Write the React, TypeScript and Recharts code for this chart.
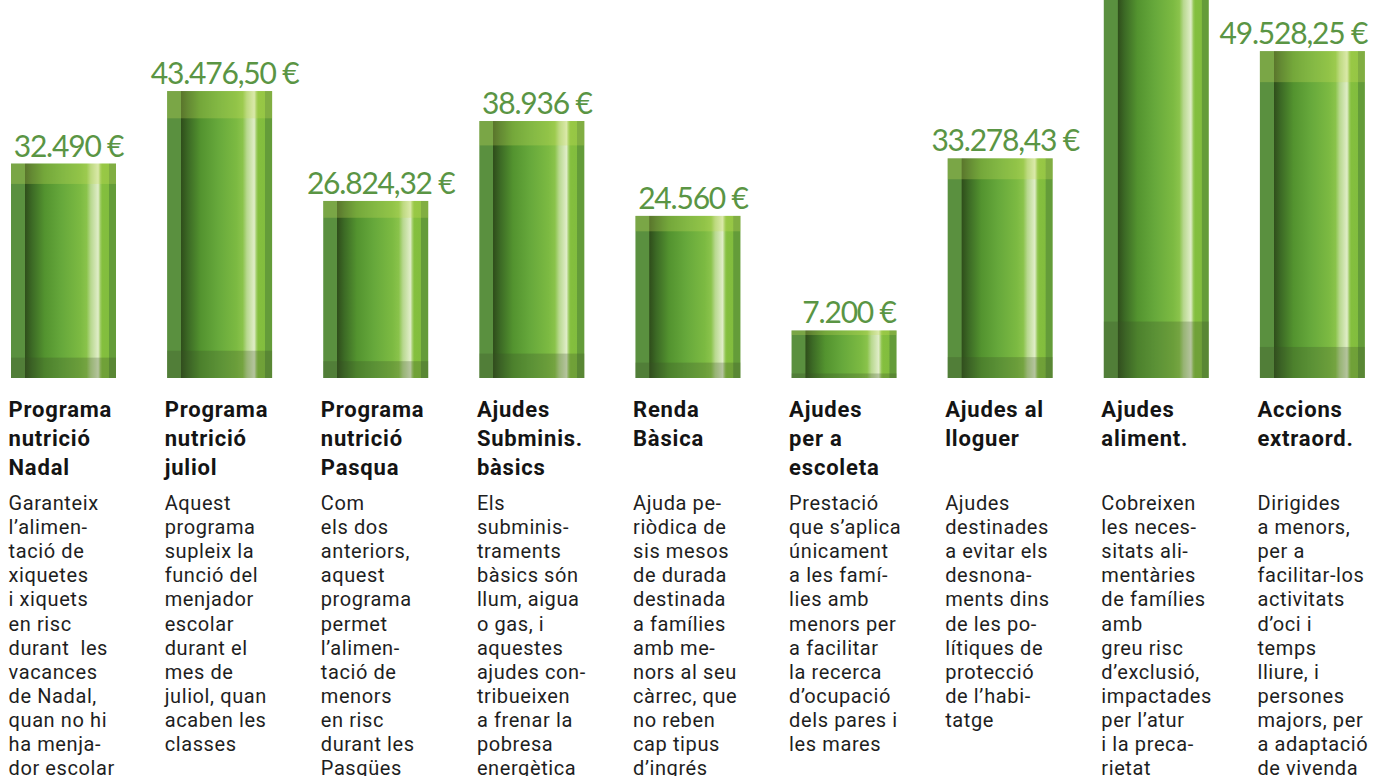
import { BarChart, Bar, XAxis, YAxis, LabelList } from "recharts";

const titles = [
  ["Programa", "nutrició", "Nadal"],
  ["Programa", "nutrició", "juliol"],
  ["Programa", "nutrició", "Pasqua"],
  ["Ajudes", "Subminis.", "bàsics"],
  ["Renda", "Bàsica"],
  ["Ajudes", "per a", "escoleta"],
  ["Ajudes al", "lloguer"],
  ["Ajudes", "aliment."],
  ["Accions", "extraord."],
];

const descriptions = [
  ["Garanteix", "l’alimen-", "tació de", "xiquetes", "i xiquets", "en risc", "durant  les", "vacances", "de Nadal,", "quan no hi", "ha menja-", "dor escolar"],
  ["Aquest", "programa", "supleix la", "funció del", "menjador", "escolar", "durant el", "mes de", "juliol, quan", "acaben les", "classes"],
  ["Com", "els dos", "anteriors,", "aquest", "programa", "permet", "l’alimen-", "tació de", "menors", "en risc", "durant les", "Pasqües"],
  ["Els", "subminis-", "traments", "bàsics són", "llum, aigua", "o gas, i", "aquestes", "ajudes con-", "tribueixen", "a frenar la", "pobresa", "energètica"],
  ["Ajuda pe-", "riòdica de", "sis mesos", "de durada", "destinada", "a famílies", "amb me-", "nors al seu", "càrrec, que", "no reben", "cap tipus", "d’ingrés"],
  ["Prestació", "que s’aplica", "únicament", "a les famí-", "lies amb", "menors per", "a facilitar", "la recerca", "d’ocupació", "dels pares i", "les mares"],
  ["Ajudes", "destinades", "a evitar els", "desnona-", "ments dins", "de les po-", "lítiques de", "protecció", "de l’habi-", "tatge"],
  ["Cobreixen", "les neces-", "sitats ali-", "mentàries", "de famílies", "amb", "greu risc", "d’exclusió,", "impactades", "per l’atur", "i la preca-", "rietat"],
  ["Dirigides", "a menors,", "per a", "facilitar-los", "activitats", "d’oci i", "temps", "lliure, i", "persones", "majors, per", "a adaptació", "de vivenda"],
];

// euros; the 8th bar runs off the top of the picture, its value is an estimate
const values = [32490, 43476.5, 26824.32, 38936, 24560, 7200, 33278.43, 90000, 49528.25];

const valueLabels = [
  "32.490 €",
  "43.476,50 €",
  "26.824,32 €",
  "38.936 €",
  "24.560 €",
  "7.200 €",
  "33.278,43 €",
  "",
  "49.528,25 €",
];

const data = titles.map((t, i) => ({
  name: t.join(" "),
  value: values[i],
  label: valueLabels[i],
}));

const BAR_SIZE = 105;
const CHART_W = 1405;
const CHART_H = 1058;
const AXIS_H = 398;

function CylinderBar(props: any) {
  const { x, y, width, height, index } = props;
  if (!height || height <= 0) return null;
  const id = `cyl-${index}`;
  const band = height * 0.095;
  return (
    <g>
      <defs>
        <linearGradient id={id} x1="0" y1="0" x2="1" y2="0">
          <stop offset="0" stopColor="#5a903f" />
          <stop offset="0.13" stopColor="#5a903f" />
          <stop offset="0.135" stopColor="#2f4e1b" />
          <stop offset="0.2" stopColor="#3c6a25" />
          <stop offset="0.32" stopColor="#53932f" />
          <stop offset="0.48" stopColor="#66a83b" />
          <stop offset="0.66" stopColor="#7cba42" />
          <stop offset="0.72" stopColor="#8ac34b" />
          <stop offset="0.76" stopColor="#b8d88f" />
          <stop offset="0.83" stopColor="#e0edc8" />
          <stop offset="0.855" stopColor="#96c858" />
          <stop offset="0.87" stopColor="#84bf3e" />
          <stop offset="0.93" stopColor="#82bd3e" />
          <stop offset="0.935" stopColor="#649c39" />
          <stop offset="1" stopColor="#649c39" />
        </linearGradient>
      </defs>
      <rect x={x} y={y} width={width} height={height} fill={`url(#${id})`} />
      <rect x={x} y={y} width={width} height={band} fill="#cde058" opacity={0.28} />
      <rect x={x} y={y + height - band} width={width} height={band} fill="#3a4c28" opacity={0.26} />
    </g>
  );
}

function ValueLabel(props: any) {
  const { x, y, width, value } = props;
  if (!value) return null;
  const w = String(value).length * 14.3;
  let cx = x + width / 2 + 5;
  if (cx + w / 2 > CHART_W - 18) cx = CHART_W - 18 - w / 2;
  return (
    <text
      x={cx}
      y={y - 7}
      textAnchor="middle"
      fontFamily="Lato, sans-serif"
      fontSize={30}
      letterSpacing={-1.2}
      fill="#5a9544"
    >
      {value}
    </text>
  );
}

function ColumnTick(props: any) {
  const { x, y, payload } = props;
  const i = payload.index;
  const left = x - BAR_SIZE / 2 - 2;
  return (
    <g>
      <text
        x={left}
        y={y + 39}
        fontFamily="Roboto, sans-serif"
        fontWeight={700}
        fontSize={22}
        letterSpacing={0.8}
        fill="#141414"
      >
        {titles[i].map((line, k) => (
          <tspan key={k} x={left} dy={k === 0 ? 0 : 29}>
            {line}
          </tspan>
        ))}
      </text>
      <text
        x={left}
        y={y + 132}
        fontFamily="Roboto, sans-serif"
        fontSize={20}
        letterSpacing={0.6}
        fill="#1e1e1e"
        style={{ whiteSpace: "pre" }}
      >
        {descriptions[i].map((line, k) => (
          <tspan key={k} x={left} dy={k === 0 ? 0 : 24.1}>
            {line}
          </tspan>
        ))}
      </text>
    </g>
  );
}

export default function App() {
  return (
    <div
      style={{
        position: "absolute",
        left: 0,
        top: 0,
        width: 1373,
        height: 776,
        overflow: "hidden",
        background: "#ffffff",
      }}
    >
      <div style={{ position: "absolute", left: -15, top: -282 }}>
        <BarChart
          width={CHART_W}
          height={CHART_H}
          data={data}
          margin={{ top: 0, right: 0, bottom: 0, left: 0 }}
        >
          <YAxis hide domain={[0, 100000]} />
          <XAxis
            dataKey="name"
            height={AXIS_H}
            interval={0}
            axisLine={false}
            tickLine={false}
            tickSize={0}
            tickMargin={0}
            tick={<ColumnTick />}
          />
          <Bar
            dataKey="value"
            barSize={BAR_SIZE}
            shape={<CylinderBar />}
            isAnimationActive={false}
          >
            <LabelList dataKey="label" content={<ValueLabel />} />
          </Bar>
        </BarChart>
      </div>
    </div>
  );
}
